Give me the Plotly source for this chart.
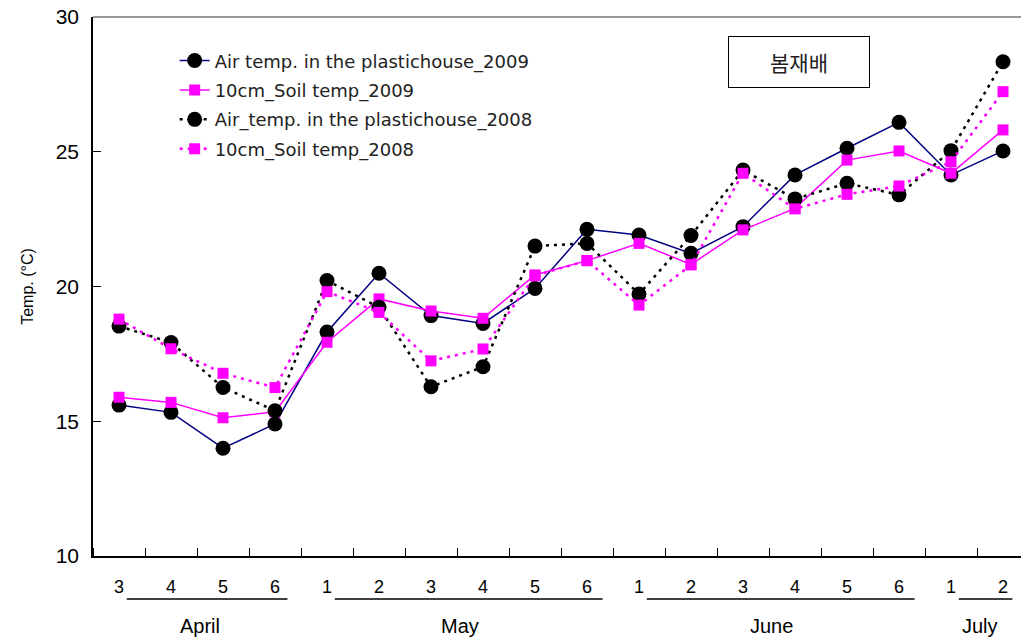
import plotly.graph_objects as go

# Week-of-month labels and the month each week belongs to
week_labels = ["3", "4", "5", "6", "1", "2", "3", "4", "5", "6",
               "1", "2", "3", "4", "5", "6", "1", "2"]
months = ["April"] * 4 + ["May"] * 6 + ["June"] * 6 + ["July"] * 2

# Weekly mean temperatures (°C)
air_2009 = [15.60, 15.33, 14.00, 14.90, 18.31, 20.49, 18.92, 18.63, 19.93, 22.12,
            21.91, 21.23, 22.22, 24.14, 25.13, 26.09, 24.14, 25.03]
soil_2009 = [15.89, 15.70, 15.13, 15.35, 17.93, 19.54, 19.09, 18.82, 20.43, 20.96,
             21.60, 20.82, 22.10, 22.90, 24.69, 25.03, 24.20, 25.81]
air_2008 = [18.53, 17.92, 16.25, 15.39, 20.22, 19.23, 16.28, 17.02, 21.50, 21.60,
            19.72, 21.89, 24.32, 23.25, 23.83, 23.40, 25.04, 28.34]
soil_2008 = [18.79, 17.69, 16.78, 16.25, 19.81, 19.04, 17.24, 17.68, 20.40, 20.96,
             19.31, 20.80, 24.20, 22.88, 23.42, 23.73, 24.63, 27.23]

x = list(range(len(week_labels)))

fig = go.Figure()

fig.add_trace(go.Scatter(
    x=x, y=air_2009, mode="lines+markers", legendgroup="a09",
    name="Air temp. in the plastichouse_2009",
    line=dict(color="#000080", width=1.5),
    marker=dict(symbol="circle", size=15, color="black"),
))
fig.add_trace(go.Scatter(
    x=x, y=soil_2009, mode="lines+markers", legendgroup="s09",
    name="10cm_Soil temp_2009",
    line=dict(color="#ff00ff", width=1.5),
    marker=dict(symbol="square", size=11, color="#ff00ff"),
))
fig.add_trace(go.Scatter(
    x=x, y=air_2008, mode="lines+markers", legendgroup="a08",
    name="Air_temp. in the plastichouse_2008",
    line=dict(color="black", width=2.5, dash="3px,5px"),
    marker=dict(symbol="circle", size=15, color="black"),
))
fig.add_trace(go.Scatter(
    x=x, y=soil_2008, mode="lines+markers", legendgroup="s08",
    name="10cm_Soil temp_2008",
    line=dict(color="#ff00ff", width=2.5, dash="3px,5px"),
    marker=dict(symbol="square", size=11, color="#ff00ff"),
))

# Month labels with underline beneath the week numbers
shapes = []
annotations = []
month_order = []
for m in months:
    if m not in month_order:
        month_order.append(m)
for m in month_order:
    idx = [i for i, mm in enumerate(months) if mm == m]
    first, last = idx[0], idx[-1]
    shapes.append(dict(type="line", xref="x", yref="paper",
                       x0=first + 0.15, x1=last + 0.12 + 0.03 * len(idx), y0=-0.08, y1=-0.08,
                       line=dict(color="black", width=1.5)))
    annotations.append(dict(text=m, xref="x", yref="paper",
                            x=(first + last) / 2 + 0.05, y=-0.13,
                            showarrow=False, yanchor="middle",
                            font=dict(family="Liberation Sans Narrow, Arial Narrow, Liberation Sans",
                                      size=20, color="black")))

# Top frame line
shapes.append(dict(type="line", xref="paper", yref="paper", x0=0, x1=1, y0=1, y1=1,
                   line=dict(color="#777777", width=1.5)))

# Season label box
annotations.append(dict(text="봄재배", xref="paper", yref="paper",
                        x=(799 - 93) / 928, y=(556 - 62) / 539,
                        showarrow=False, xanchor="center", yanchor="middle",
                        width=138, height=48, bordercolor="black", borderwidth=1,
                        bgcolor="white",
                        font=dict(family="Noto Sans CJK KR", size=21, color="#222222")))

fig.update_layout(
    width=1021, height=644,
    margin=dict(l=93, r=0, t=17, b=88),
    plot_bgcolor="white", paper_bgcolor="white",
    showlegend=True,
    legend=dict(x=0.088, y=0.953, xanchor="left", yanchor="top",
                bgcolor="rgba(0,0,0,0)", tracegroupgap=3,
                font=dict(family="DejaVu Sans", size=18, color="#222222")),
    shapes=shapes, annotations=annotations,
)

fig.update_xaxes(
    range=[-0.5, -0.5 + 928 / 52], tickvals=x, ticktext=week_labels,
    showgrid=False, zeroline=False, showline=True, linecolor="black", linewidth=1.5,
    ticks="", ticklabelstandoff=14,
    tickfont=dict(family="Liberation Sans Narrow, Arial Narrow, Liberation Sans",
                  size=18, color="black"),
    minor=dict(tickvals=[i - 0.5 for i in range(len(x) + 1)], ticks="inside",
               ticklen=8, tickcolor="black", tickwidth=1),
)
fig.update_yaxes(
    range=[10, 30], tickvals=[10, 15, 20, 25, 30],
    showgrid=False, zeroline=False, showline=True, linecolor="black", linewidth=1.5,
    ticks="inside", ticklen=8, tickcolor="black",
    tickfont=dict(family="Liberation Sans, Arial", size=21, color="black"),
    ticklabelstandoff=8,
    title=dict(text="Temp. (°C)", standoff=18,
               font=dict(family="Liberation Sans, Arial", size=16, color="black")),
)

fig.write_html("out.html")
